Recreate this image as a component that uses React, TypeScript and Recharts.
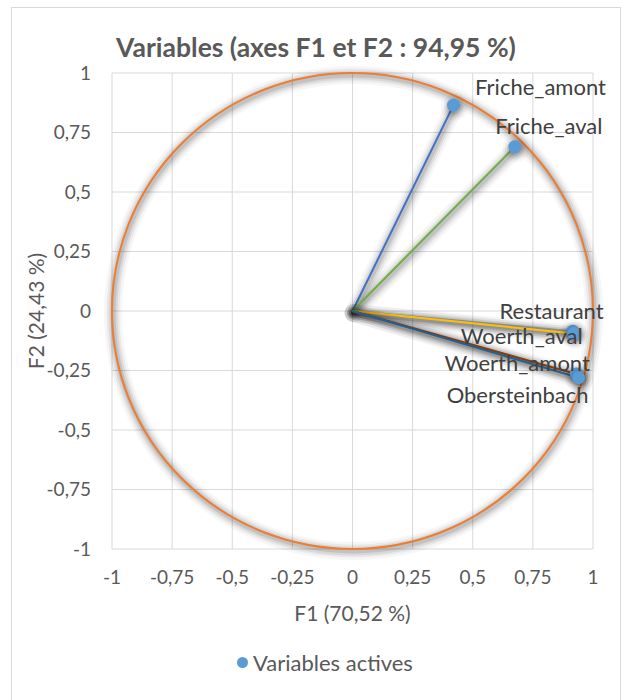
import React from 'react';
import {
  ScatterChart, Scatter, XAxis, YAxis, CartesianGrid,
  ReferenceLine, ReferenceArea, LabelList
} from 'recharts';

const variables = ['Friche_amont', 'Friche_aval', 'Restaurant', 'Woerth_aval', 'Woerth_amont', 'Obersteinbach'];
const f1 = [0.42, 0.675, 0.915, 0.92, 0.93, 0.94];
const f2 = [0.865, 0.69, -0.085, -0.095, -0.265, -0.28];
const axisTicks = [-1, -0.75, -0.5, -0.25, 0, 0.25, 0.5, 0.75, 1];
const vectorColors = ['#4472C4', '#70AD47', '#A5A5A5', '#FFC000', '#9E480E', '#255E91'];

// label placement around each point (dx, dy from point centre to text centre)
const labelOffsets: Record<string, [number, number]> = {
  Friche_amont: [87, -19],
  Friche_aval: [34, -21],
  Restaurant: [-21, -21],
  Woerth_aval: [-52, 2],
  Woerth_amont: [-59, -12],
  Obersteinbach: [-61, 17],
};

const points = variables.map((name, i) => ({ name, x: f1[i], y: f2[i] }));

const FONT = 'Lato, "Open Sans", sans-serif';
const TEXT = '#595959';

// soft shadow faked with stacked translucent strokes (Excel "outer shadow")
const shadowLayers = [
  { w: 18, o: 0.035 },
  { w: 13, o: 0.05 },
  { w: 9, o: 0.07 },
  { w: 5, o: 0.1 },
];
const SDX = 1;
const SDY = 2;

const PointLabel = (props: any) => {
  const { x, y, width = 0, height = 0, value } = props;
  const off = labelOffsets[value] || [0, -15];
  const cx = Number(x) + Number(width) / 2;
  const cy = Number(y) + Number(height) / 2;
  return (
    <text x={cx + off[0]} y={cy + off[1]} textAnchor="middle" dominantBaseline="central"
      fill="#404040" fontSize={22} fontFamily={FONT}>
      {value}
    </text>
  );
};

const fmt = (v: number) => String(v).replace('.', ',');

export default function App() {
  return (
    <div style={{ position: 'absolute', left: 0, top: 0, width: 633, height: 700, background: '#fff', fontFamily: FONT }}>
      <div style={{ position: 'absolute', left: 11, top: 7, width: 610, height: 700, border: '1px solid #D9D9D9', boxSizing: 'border-box' }} />
      <div style={{ position: 'absolute', left: 11, top: 31, width: 610, textAlign: 'center', fontWeight: 'bold', fontSize: 26.5, color: TEXT, lineHeight: '32px' }}>
        Variables (axes F1 et F2 : 94,95 %)
      </div>
      <div style={{ position: 'absolute', left: 0, top: 0 }}>
        <ScatterChart width={633} height={700} margin={{ top: 73, right: 40, bottom: 71, left: 12 }}>
          <CartesianGrid stroke="#D9D9D9" />
          <XAxis type="number" dataKey="x" domain={[-1, 1]} ticks={axisTicks} tickFormatter={fmt}
            axisLine={false} tickLine={false} tickSize={0} tickMargin={22} height={80}
            tick={{ fill: TEXT, fontSize: 19, fontFamily: FONT }} interval={0}
            label={{
              content: (p: any) => {
                const vb = p.viewBox || { x: 112, y: 549, width: 481 };
                return (
                  <text x={vb.x + vb.width / 2} y={vb.y + 63} textAnchor="middle" dominantBaseline="central"
                    fill={TEXT} fontSize={21} fontFamily={FONT}>F1 (70,52 %)</text>
                );
              },
            }} />
          <YAxis type="number" dataKey="y" domain={[-1, 1]} ticks={axisTicks} tickFormatter={fmt}
            axisLine={false} tickLine={false} tickSize={0} tickMargin={21} width={100}
            tick={{ fill: TEXT, fontSize: 19, fontFamily: FONT }} interval={0}
            label={{
              content: (p: any) => {
                const vb = p.viewBox || { x: 12, y: 73, height: 476 };
                const lx = vb.x + 23;
                const ly = vb.y + vb.height / 2;
                return (
                  <text x={lx} y={ly} transform={`rotate(-90 ${lx} ${ly})`} textAnchor="middle"
                    dominantBaseline="central" fill={TEXT} fontSize={21} fontFamily={FONT}>F2 (24,43 %)</text>
                );
              },
            }} />
          <ReferenceArea x1={-1} x2={1} y1={-1} y2={1} ifOverflow="visible"
            shape={(p: any) => {
              const cx = p.x + p.width / 2;
              const cy = p.y + p.height / 2;
              return (
                <g>
                  {shadowLayers.map((s, k) => (
                    <ellipse key={k} cx={cx + SDX} cy={cy + SDY} rx={p.width / 2} ry={p.height / 2}
                      fill="none" stroke="#000" strokeOpacity={s.o} strokeWidth={s.w} />
                  ))}
                  <ellipse cx={cx} cy={cy} rx={p.width / 2} ry={p.height / 2}
                    fill="none" stroke="#ED7D31" strokeWidth={2} />
                </g>
              );
            }} />
          {variables.map((name, i) => (
            <ReferenceLine key={name} ifOverflow="visible"
              segment={[{ x: 0, y: 0 }, { x: f1[i], y: f2[i] }]}
              shape={(p: any) => (
                <g>
                  {shadowLayers.map((s, k) => (
                    <line key={k} x1={p.x1 + SDX} y1={p.y1 + SDY} x2={p.x2 + SDX} y2={p.y2 + SDY}
                      stroke="#000" strokeOpacity={s.o} strokeWidth={s.w} strokeLinecap="round" />
                  ))}
                  <line x1={p.x1} y1={p.y1} x2={p.x2} y2={p.y2} stroke={vectorColors[i]} strokeWidth={2} />
                </g>
              )} />
          ))}
          <Scatter name="Variables actives" data={points} isAnimationActive={false}
            shape={(p: any) => (
              <g>
                {shadowLayers.map((s, k) => (
                  <circle key={k} cx={p.cx + SDX} cy={p.cy + SDY} r={6.5 + s.w / 2 - 2} fill="#000" fillOpacity={s.o} />
                ))}
                <circle cx={p.cx} cy={p.cy} r={6.5} fill="#5B9BD5" />
              </g>
            )}>
            <LabelList dataKey="name" content={<PointLabel />} />
          </Scatter>
        </ScatterChart>
      </div>
      <div style={{ position: 'absolute', left: 237, top: 649, display: 'flex', alignItems: 'center', color: TEXT, fontSize: 22 }}>
        <span style={{ display: 'inline-block', width: 11, height: 11, borderRadius: '50%', background: '#5B9BD5', marginRight: 5 }} />
        <span>Variables actives</span>
      </div>
    </div>
  );
}
